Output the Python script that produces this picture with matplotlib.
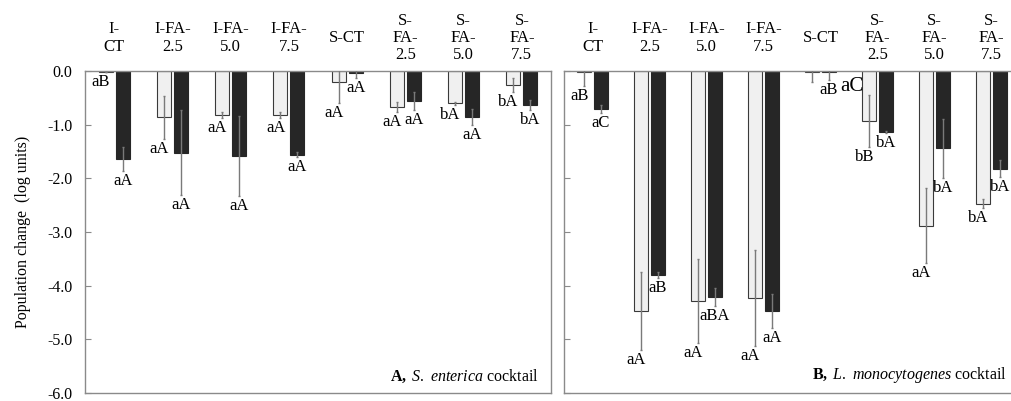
import matplotlib
matplotlib.use("Agg")
import matplotlib.pyplot as plt
import numpy as np

plt.rcParams["font.family"] = ["Liberation Serif", "DejaVu Serif"]
plt.rcParams["mathtext.fontset"] = "custom"
plt.rcParams["mathtext.rm"] = "Liberation Serif"
plt.rcParams["mathtext.it"] = "Liberation Serif:italic"
plt.rcParams["mathtext.bf"] = "Liberation Serif:bold"

# ----- data -----
categories = ["I-\nCT", "I-FA-\n2.5", "I-FA-\n5.0", "I-FA-\n7.5",
              "S-CT", "S-\nFA-\n2.5", "S-\nFA-\n5.0", "S-\nFA-\n7.5"]
y_ticks = [0.0, -1.0, -2.0, -3.0, -4.0, -5.0, -6.0]

# A, S. enterica
se_white = [-0.02, -0.86, -0.82, -0.82, -0.20, -0.67, -0.60, -0.26]
se_white_err = [0.0, 0.40, 0.06, 0.06, 0.40, 0.09, 0.03, 0.13]
se_black = [-1.64, -1.52, -1.58, -1.56, -0.03, -0.56, -0.85, -0.63]
se_black_err = [0.23, 0.79, 0.74, 0.05, 0.10, 0.16, 0.15, 0.09]
se_white_lbl = ["aB", "aA", "aA", "aA", "aA", "aA", "bA", "bA"]
se_black_lbl = ["aA", "aA", "aA", "aA", "aA", "aA", "aA", "bA"]

# B, L. monocytogenes
lm_white = [-0.01, -4.47, -4.28, -4.23, -0.02, -0.93, -2.88, -2.47]
lm_white_err = [0.27, 0.72, 0.78, 0.89, 0.18, 0.49, 0.70, 0.09]
lm_black = [-0.71, -3.80, -4.21, -4.47, -0.02, -1.13, -1.44, -1.82]
lm_black_err = [0.08, 0.05, 0.17, 0.31, 0.15, 0.02, 0.55, 0.16]
lm_white_lbl = ["aB", "aA", "aA", "aA", "", "bB", "aA", "bA"]
lm_black_lbl = ["aC", "aB", "aBA", "aA", "aB", "bA", "bA", "bA"]
lm_extra_lbl = "aC"  # stray letter next to S-CT in panel B

W, H = 1011, 401
fig = plt.figure(figsize=(W / 100, H / 100), dpi=100)
ax_a = fig.add_axes([85 / W, 8 / H, 466 / W, 322 / H])
ax_b = fig.add_axes([564 / W, 8 / H, 456 / W, 322 / H])

x = np.arange(len(categories))
bw = 0.24
off = 0.145
SPINE = "#8a8a8a"
ERR = "#7a7a7a"
FS = 12


def draw_panel(ax, white, werr, black, berr, wl, bl, caption, show_labels):
    ax.bar(x - off, white, bw, color="#f0f0f0", edgecolor="#3a3a3a", lw=0.8, zorder=2)
    ax.bar(x + off, black, bw, color="#262626", edgecolor="#262626", lw=0.8, zorder=2)
    ax.errorbar(x - off, white, yerr=werr, fmt="none", ecolor=ERR, elinewidth=1,
                capsize=1, zorder=3)
    ax.errorbar(x + off, black, yerr=berr, fmt="none", ecolor=ERR, elinewidth=1,
                capsize=1, zorder=3)
    for i in range(len(categories)):
        # letters sit just under the lower end of each error bar
        for xx, v, e, t, dx in ((x[i] - off, white[i], werr[i], wl[i], -3.5),
                                (x[i] + off, black[i], berr[i], bl[i], 0)):
            if not t:
                continue
            ax.annotate(t, (xx, v - e), xytext=(dx, -1.5), textcoords="offset points",
                        ha="center", va="top", fontsize=FS)
        ax.text(x[i], 1.1025, categories[i], transform=ax.get_xaxis_transform(),
                ha="center", va="center", fontsize=FS, linespacing=1.1)
    ax.set_xlim(-0.5, len(categories) - 0.5)
    ax.set_ylim(-6.0, 0.0)
    ax.set_xticks([])
    ax.set_yticks(y_ticks)
    if show_labels:
        ax.set_yticklabels(["%.1f" % t for t in y_ticks])
    else:
        ax.set_yticklabels([])
    ax.tick_params(axis="y", direction="in", length=4, color=SPINE, pad=9, labelsize=11.5)
    for s in ax.spines.values():
        s.set_color(SPINE)
        s.set_linewidth(1)
    ax.annotate(caption, (1, 0), xycoords="axes fraction", xytext=(-9, 6),
                textcoords="offset points", ha="right", va="bottom", fontsize=11.5)


draw_panel(ax_a, se_white, se_white_err, se_black, se_black_err,
           se_white_lbl, se_black_lbl, r"$\mathbf{A,}$ $\mathit{S.\ enterica}$ cocktail", True)
draw_panel(ax_b, lm_white, lm_white_err, lm_black, lm_black_err,
           lm_white_lbl, lm_black_lbl, r"$\mathbf{B,}$ $\mathit{L.\ monocytogenes}$ cocktail", False)

ax_b.annotate(lm_extra_lbl, (x[4] + 0.55, 0), xytext=(0, -4), textcoords="offset points",
              ha="center", va="top", fontsize=15)

ax_a.set_ylabel("Population change  (log units)", fontsize=11.5, labelpad=12)

fig.savefig("out.png", dpi=100)
